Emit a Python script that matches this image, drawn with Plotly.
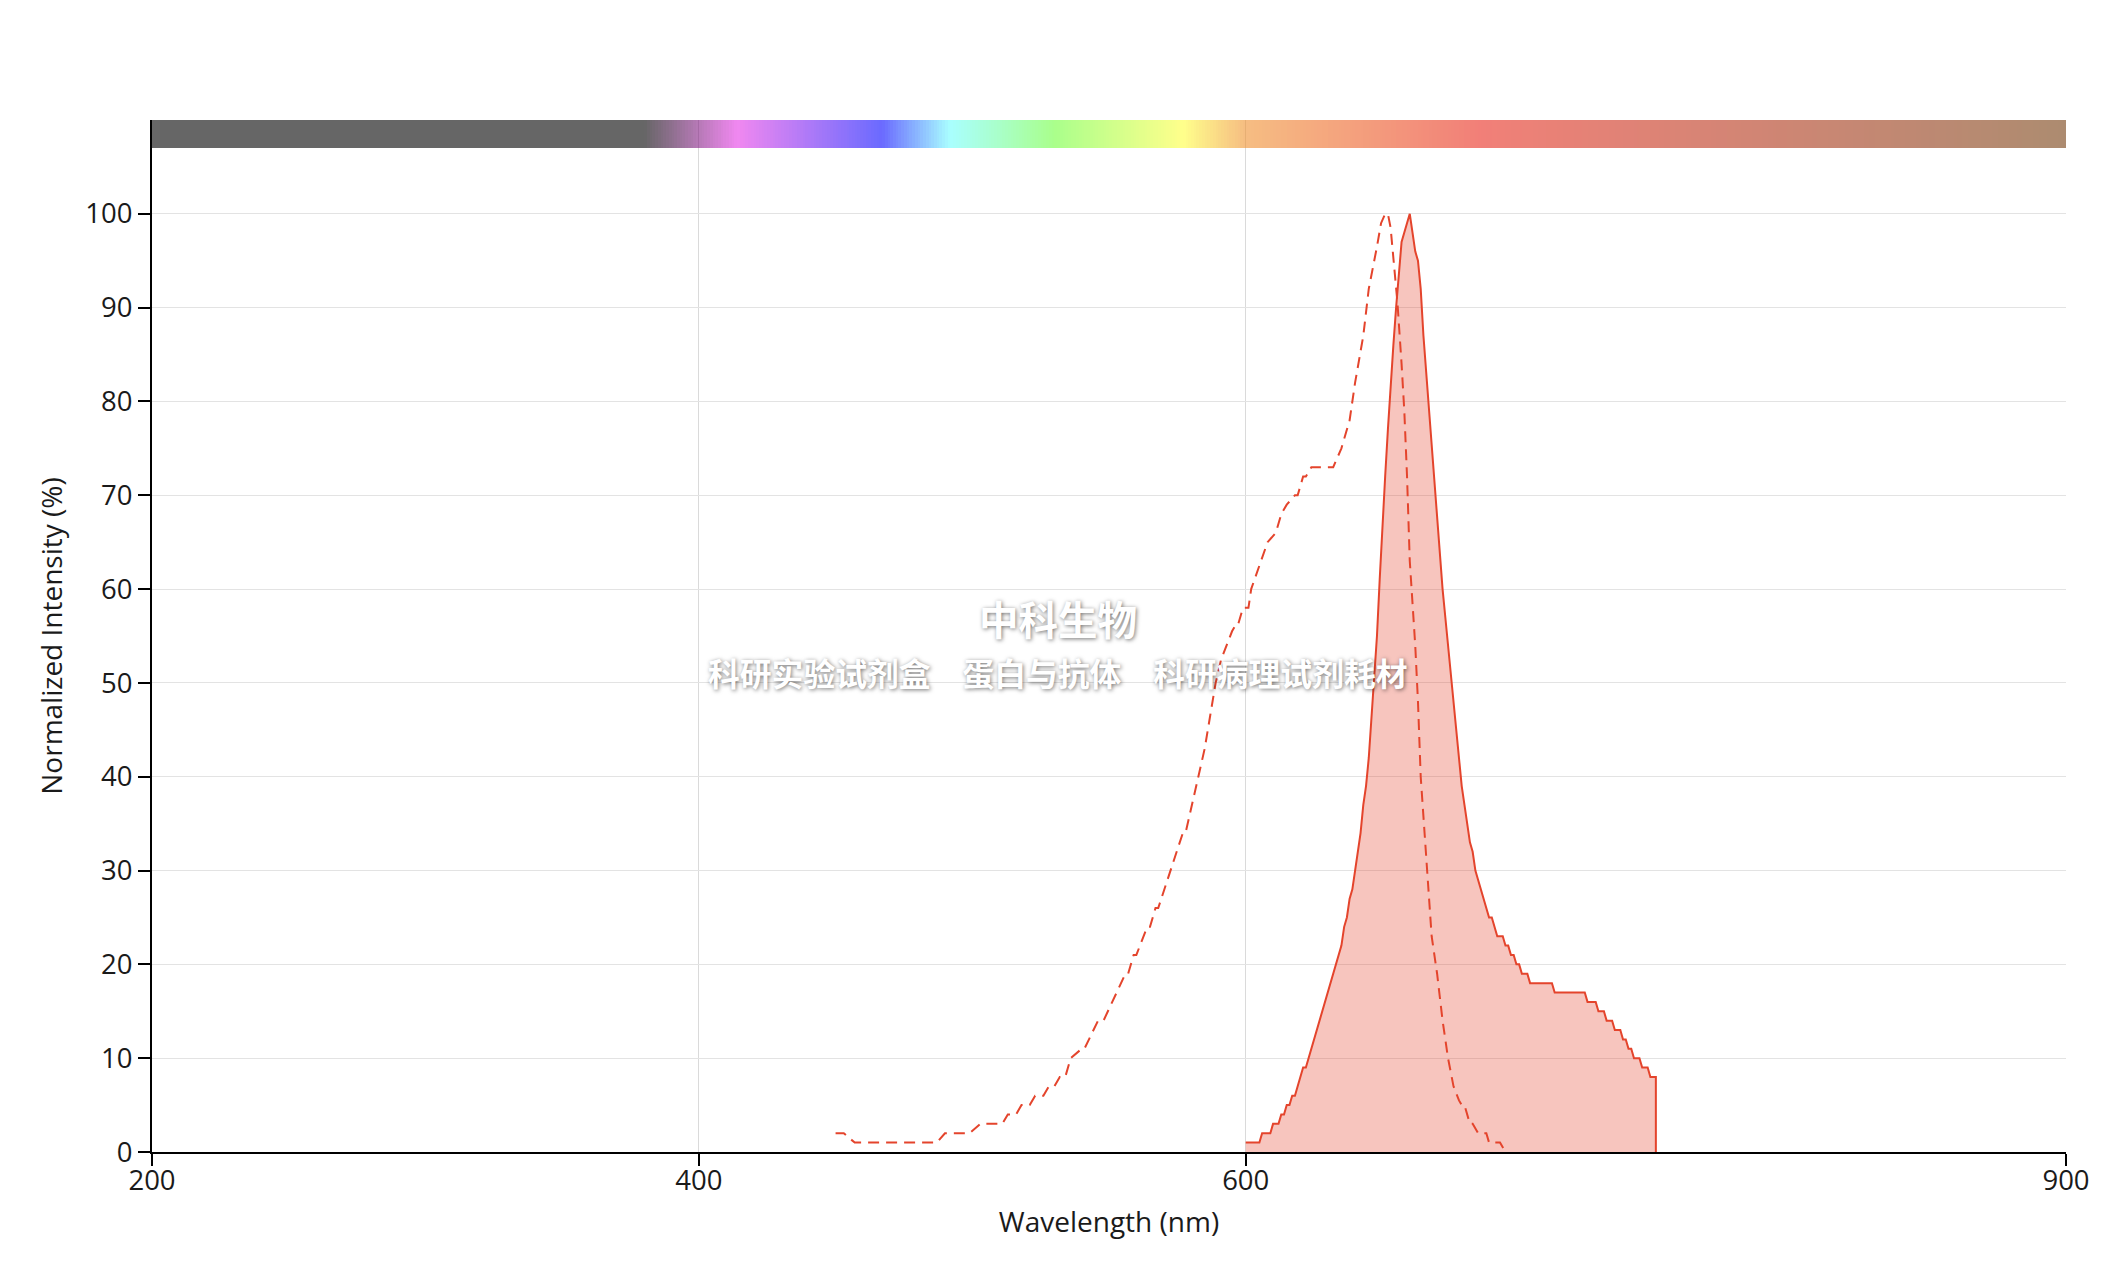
import plotly.graph_objects as go
import numpy as np

# ---------------- data ----------------
x_ticks = [200, 400, 600, 900]
y_ticks = [0, 10, 20, 30, 40, 50, 60, 70, 80, 90, 100]

# Emission spectrum (solid, filled), 1 nm steps 600..750, closing drop to 0
em_wl = list(range(600, 751)) + [750]
em_val = [
    1, 1, 1, 1, 1, 1, 2, 2, 2, 2,            # 600-609
    3, 3, 3, 4, 4, 5, 5, 6, 6, 7,            # 610-619
    8, 9, 9, 10, 11, 12, 13, 14, 15, 16,     # 620-629
    17, 18, 19, 20, 21, 22, 24, 25, 27, 28,  # 630-639
    30, 32, 34, 37, 39, 42, 46, 50, 55, 61,  # 640-649
    67, 72, 77, 82, 86, 90, 94, 97, 98, 99,  # 650-659
    100, 98, 96, 95, 92, 87, 83, 80, 76, 72, # 660-669
    67, 63, 60, 57, 54, 51, 48, 45, 42, 39,  # 670-679
    37, 35, 33, 32, 30, 29, 28, 27, 26, 25,  # 680-689
    25, 24, 23, 23, 23, 22, 22, 21, 21, 20,  # 690-699
    20, 19, 19, 19, 18, 18, 18, 18, 18, 18,  # 700-709
    18, 18, 18, 17, 17, 17, 17, 17, 17, 17,  # 710-719
    17, 17, 17, 17, 17, 16, 16, 16, 16, 15,  # 720-729
    15, 15, 14, 14, 14, 13, 13, 13, 12, 12,  # 730-739
    11, 11, 10, 10, 10, 9, 9, 9, 8, 8,       # 740-749
    8,                                       # 750
    0,
]

# Excitation spectrum (dashed)
ex_wl = [450, 453, 457, 487, 490, 499, 503, 511, 513, 516, 518, 521, 523, 526, 528, 530,
         532, 534, 536, 540, 541, 546, 548, 556, 557, 559, 560, 564, 565, 567, 568, 577,
         578, 584, 585, 587, 589, 591, 593, 595, 596, 597, 599, 601, 602, 605, 608, 611,
         613, 615, 618, 619, 621, 622, 624, 632, 635, 638, 640, 643, 645, 648, 649.5, 651,
         652, 653, 654, 655.5, 657, 658, 659, 660, 662, 663, 664, 666, 668, 670, 672, 674,
         676, 678, 679, 680, 681, 682, 683, 685, 688, 689, 693, 695]
ex_val = [2, 2, 1, 1, 2, 2, 3, 3, 4, 4, 5, 5, 6, 6, 7, 7,
          8, 8, 10, 11, 11, 14, 14, 19, 19, 21, 21, 24, 24, 26, 26, 34,
          34, 42, 43, 46.5, 50, 52.5, 54, 55.5, 56, 56, 58, 58, 60, 62.5, 65, 66,
          68, 69, 70, 70, 72, 72, 73, 73, 75, 78, 82, 87, 92, 96.5, 99, 100,
          100, 98.5, 95, 90.5, 84, 79, 72, 63, 54, 48, 40, 31, 23, 19, 14, 10,
          7, 5.5, 5, 5, 4, 3, 3, 2, 2, 1, 1, 0]

# Spectrum colour bar stops (wavelength, colour as seen on white)
bar_wl = [200, 380, 414, 467, 492, 530, 577, 600, 685, 900]
bar_hex = ['#666666', '#666666', '#f088f0', '#6b6bff', '#aaffff', '#aaff8c',
           '#ffff8c', '#f6bd82', '#f28078', '#ad8c70']

# ---------------- styling ----------------
LINE = 'rgb(228,68,44)'
FILL = 'rgba(228,68,44,0.31)'
BAR_ALPHA = 0.6
FONT = 'Open Sans, Noto Sans, sans-serif'


def under(hexc, a=BAR_ALPHA):
    h = hexc.lstrip('#')
    rgb = [int(h[i:i + 2], 16) for i in (0, 2, 4)]
    u = [max(0, min(255, round((c - 255 * (1 - a)) / a))) for c in rgb]
    return 'rgb(%d,%d,%d)' % tuple(u)


cs = [[(w - 200) / 700.0, under(c)] for w, c in zip(bar_wl, bar_hex)]
bar_edges = np.arange(200, 901, 1)
bar_z = [[e + 0.5 for e in bar_edges[:-1]]]

fig = go.Figure()
fig.add_trace(go.Heatmap(x=bar_edges, y=[107, 110], z=bar_z, colorscale=cs,
                         zmin=200, zmax=900, showscale=False, opacity=BAR_ALPHA,
                         hoverinfo='skip'))
fig.add_trace(go.Scatter(x=em_wl, y=em_val, mode='lines', name='Emission',
                         line=dict(color=LINE, width=2), fill='tozeroy',
                         fillcolor=FILL))
fig.add_trace(go.Scatter(x=ex_wl, y=ex_val, mode='lines', name='Excitation',
                         line=dict(color=LINE, width=2, dash='11px,7px')))

fig.update_layout(
    width=2116, height=1288,
    margin=dict(l=152, r=50, t=120, b=136, pad=0),
    paper_bgcolor='white', plot_bgcolor='white',
    showlegend=False,
    font=dict(family=FONT, size=27.5, color='#1a1a1a'),
)
fig.update_xaxes(
    range=[200, 900], tickvals=x_ticks, ticktext=[str(t) for t in x_ticks],
    showgrid=True, gridcolor='#dadada', gridwidth=1,
    showline=True, linecolor='black', linewidth=2,
    ticks='outside', ticklen=12, tickwidth=2, tickcolor='black',
    ticklabelstandoff=-9,
    zeroline=False,
    title=dict(text='Wavelength (nm)', font=dict(size=28)),
)
fig.update_yaxes(
    range=[0, 110], tickvals=y_ticks, ticktext=[str(t) for t in y_ticks],
    showgrid=True, gridcolor='#e3e3e3', gridwidth=1,
    showline=True, linecolor='black', linewidth=2,
    ticks='outside', ticklen=12, tickwidth=2, tickcolor='black',
    zeroline=False,
    title=dict(text='Normalized Intensity (%)', font=dict(size=28)),
)

WM_FONT = 'Noto Sans CJK SC'
fig.add_annotation(text='<b>中科生物</b>', xref='paper', yref='paper', x=0.4734, y=0.5175,
                   showarrow=False, xanchor='center', yanchor='middle',
                   font=dict(family=WM_FONT, size=39.5, color='white',
                             shadow='1px 1px 4px rgba(0,0,0,0.55)'))
fig.add_annotation(text='<b>科研实验试剂盒　蛋白与抗体　科研病理试剂耗材</b>', xref='paper', yref='paper',
                   x=0.4734, y=0.4652, showarrow=False, xanchor='center', yanchor='middle',
                   font=dict(family=WM_FONT, size=31.8, color='white',
                             shadow='1px 1px 4px rgba(0,0,0,0.55)'))

fig.write_html("out.html", config={'displayModeBar': False},
               post_script="document.body.style.margin='0';document.body.style.overflow='hidden';")
